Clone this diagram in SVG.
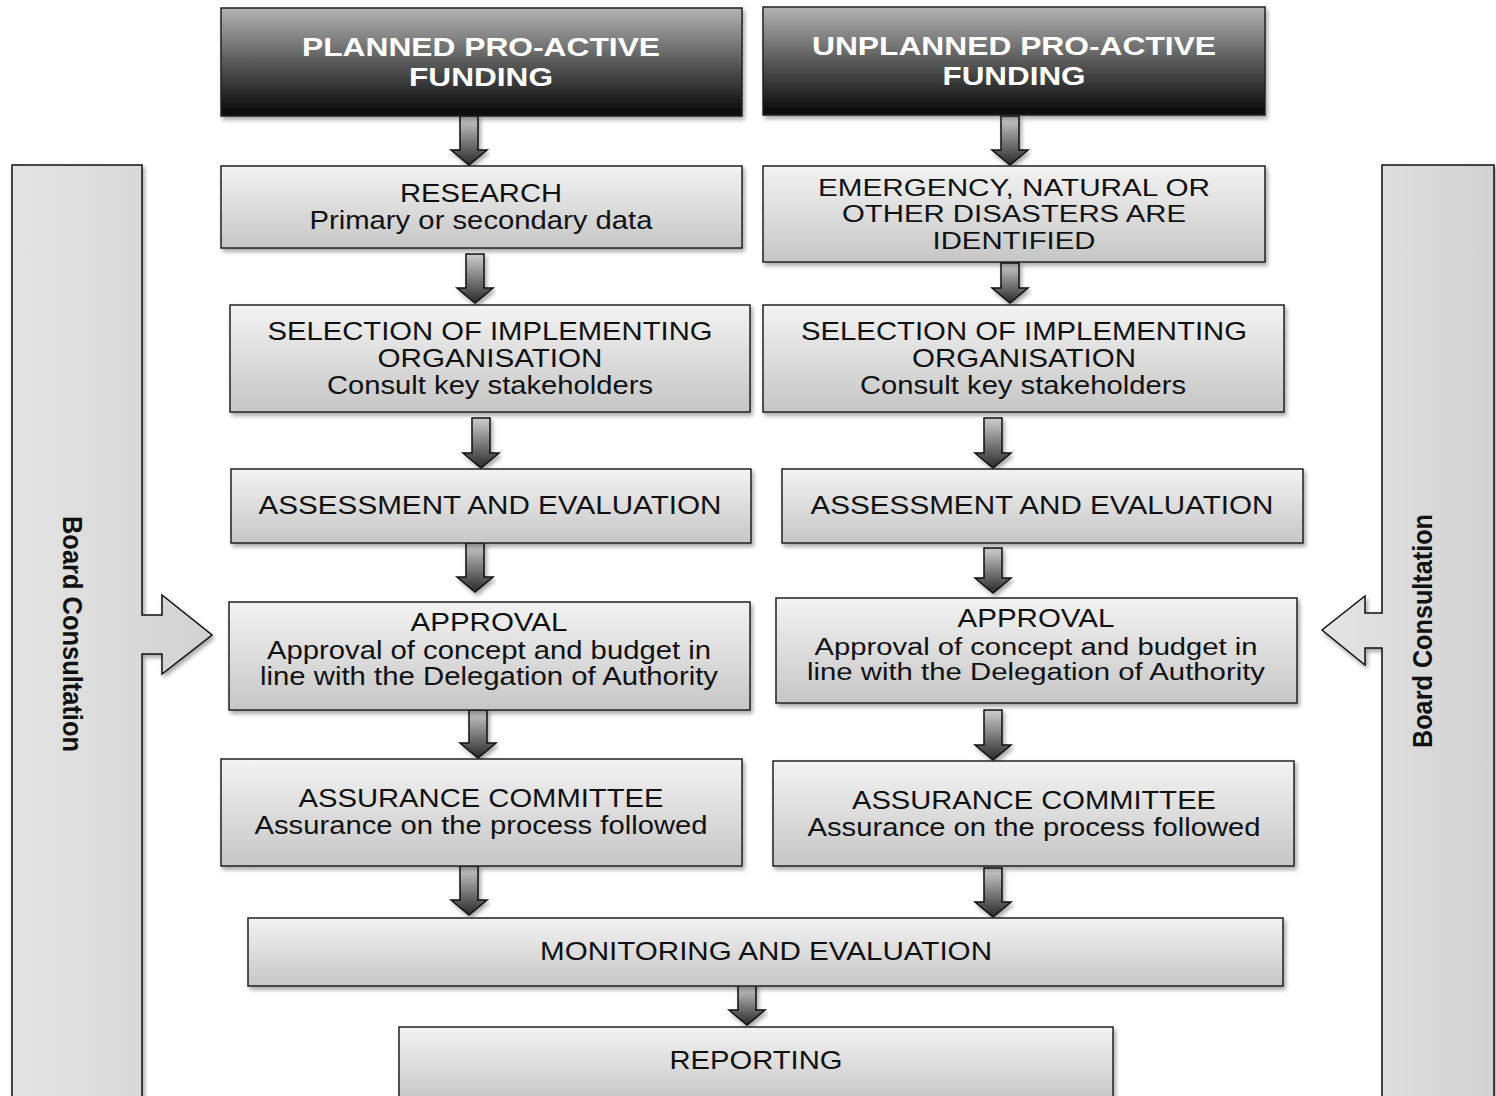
<svg xmlns="http://www.w3.org/2000/svg" width="1496" height="1096" viewBox="0 0 1496 1096">
<defs>
  <linearGradient id="gHead" x1="0" y1="0" x2="0" y2="1">
    <stop offset="0" stop-color="#b4b4b4"/>
    <stop offset="0.5" stop-color="#5a5a5a"/>
    <stop offset="1" stop-color="#050505"/>
  </linearGradient>
  <linearGradient id="gBox" x1="0" y1="0" x2="0" y2="1">
    <stop offset="0" stop-color="#f3f3f3"/>
    <stop offset="1" stop-color="#c6c6c6"/>
  </linearGradient>
  <linearGradient id="gSide" x1="0" y1="0" x2="1" y2="0">
    <stop offset="0" stop-color="#e4e4e4"/>
    <stop offset="1" stop-color="#d2d2d2"/>
  </linearGradient>
  <linearGradient id="gArrow" x1="0" y1="0" x2="0" y2="1">
    <stop offset="0" stop-color="#cfcfcf"/>
    <stop offset="1" stop-color="#2a2a2a"/>
  </linearGradient>
  <filter id="sh" x="-5%" y="-10%" width="112%" height="125%">
    <feDropShadow dx="2" dy="3" stdDeviation="2" flood-color="#000" flood-opacity="0.35"/>
  </filter>
</defs>
<style>
  .box{fill:url(#gBox);stroke:#222;stroke-width:1.5;filter:url(#sh)}
  .head{fill:url(#gHead);stroke:#222;stroke-width:1.5;filter:url(#sh)}
  .side{fill:url(#gSide);stroke:#111;stroke-width:1.5;filter:url(#sh)}
  .arr{fill:url(#gArrow);stroke:#111;stroke-width:1.5;filter:url(#sh)}
  text{font-family:"Liberation Sans",Arial,sans-serif;text-anchor:middle;}
  .t{font-size:25px;fill:#111}
  .s{font-size:23px}
  .h{font-size:26px;font-weight:bold;fill:#fff}
  .b{font-size:28px;font-weight:bold;fill:#111}
</style>

<g id="board-left">
  <path class="side" d="M12 165 H142 V615 H162 V595 L212 635 L162 674 V654 H142 V1100 H12 Z"/>
  <text class="b" transform="translate(63 634) rotate(90)" textLength="236" lengthAdjust="spacingAndGlyphs">Board Consultation</text>
</g>
<g id="board-right">
  <path class="side" d="M1494 165 H1382 V613 H1365 V596 L1322 630 L1365 665 V648 H1382 V1100 H1494 Z"/>
  <text class="b" transform="translate(1432 631) rotate(-90)" textLength="234" lengthAdjust="spacingAndGlyphs">Board Consultation</text>
</g>

<g id="connectors">
  <path class="arr" d="M460 116 H478 V150 H487 L469 165 L451 150 H460 Z"/>
  <path class="arr" d="M1001 116 H1019 V150 H1028 L1010 165 L992 150 H1001 Z"/>
  <path class="arr" d="M466 254 H484 V288 H493 L475 303 L457 288 H466 Z"/>
  <path class="arr" d="M1001 263 H1019 V288 H1028 L1010 303 L992 288 H1001 Z"/>
  <path class="arr" d="M472 418 H490 V453 H499 L481 468 L463 453 H472 Z"/>
  <path class="arr" d="M984 418 H1002 V453 H1011 L993 468 L975 453 H984 Z"/>
  <path class="arr" d="M466 543 H484 V577 H493 L475 592 L457 577 H466 Z"/>
  <path class="arr" d="M984 548 H1002 V578 H1011 L993 593 L975 578 H984 Z"/>
  <path class="arr" d="M469 710 H487 V743 H496 L478 758 L460 743 H469 Z"/>
  <path class="arr" d="M984 710 H1002 V745 H1011 L993 760 L975 745 H984 Z"/>
  <path class="arr" d="M460 866 H478 V900 H487 L469 915 L451 900 H460 Z"/>
  <path class="arr" d="M984 868 H1002 V902 H1011 L993 917 L975 902 H984 Z"/>
  <path class="arr" d="M738 985 H756 V1010 H765 L747 1025 L729 1010 H738 Z"/>
</g>

<g id="planned">
  <rect class="head" x="221" y="8" width="521" height="108"/>
  <text class="h" x="481" y="56" textLength="358" lengthAdjust="spacingAndGlyphs">PLANNED PRO-ACTIVE</text>
  <text class="h" x="481" y="86" textLength="144" lengthAdjust="spacingAndGlyphs">FUNDING</text>
</g>
<g id="unplanned">
  <rect class="head" x="763" y="7" width="502" height="108"/>
  <text class="h" x="1014" y="55" textLength="404" lengthAdjust="spacingAndGlyphs">UNPLANNED PRO-ACTIVE</text>
  <text class="h" x="1014" y="85" textLength="143" lengthAdjust="spacingAndGlyphs">FUNDING</text>
</g>

<g id="research">
  <rect class="box" x="221" y="166" width="521" height="82"/>
  <text class="t" x="481" y="202" textLength="162" lengthAdjust="spacingAndGlyphs">RESEARCH</text>
  <text class="t" x="481" y="229" textLength="343" lengthAdjust="spacingAndGlyphs">Primary or secondary data</text>
</g>
<g id="emergency">
  <rect class="box" x="763" y="166" width="502" height="96"/>
  <text class="t s" x="1014" y="196" textLength="392" lengthAdjust="spacingAndGlyphs">EMERGENCY, NATURAL OR</text>
  <text class="t s" x="1014" y="222" textLength="344" lengthAdjust="spacingAndGlyphs">OTHER DISASTERS ARE</text>
  <text class="t s" x="1014" y="249" textLength="163" lengthAdjust="spacingAndGlyphs">IDENTIFIED</text>
</g>

<g id="selection-left">
  <rect class="box" x="230" y="305" width="520" height="107"/>
  <text class="t" x="490" y="340" textLength="445" lengthAdjust="spacingAndGlyphs">SELECTION OF IMPLEMENTING</text>
  <text class="t" x="490" y="367" textLength="225" lengthAdjust="spacingAndGlyphs">ORGANISATION</text>
  <text class="t" x="490" y="394" textLength="326" lengthAdjust="spacingAndGlyphs">Consult key stakeholders</text>
</g>
<g id="selection-right">
  <rect class="box" x="763" y="305" width="521" height="107"/>
  <text class="t" x="1024" y="340" textLength="446" lengthAdjust="spacingAndGlyphs">SELECTION OF IMPLEMENTING</text>
  <text class="t" x="1024" y="367" textLength="224" lengthAdjust="spacingAndGlyphs">ORGANISATION</text>
  <text class="t" x="1023" y="394" textLength="326" lengthAdjust="spacingAndGlyphs">Consult key stakeholders</text>
</g>

<g id="assessment-left">
  <rect class="box" x="231" y="469" width="520" height="74"/>
  <text class="t" x="490" y="514" textLength="463" lengthAdjust="spacingAndGlyphs">ASSESSMENT AND EVALUATION</text>
</g>
<g id="assessment-right">
  <rect class="box" x="782" y="469" width="521" height="74"/>
  <text class="t" x="1042" y="514" textLength="463" lengthAdjust="spacingAndGlyphs">ASSESSMENT AND EVALUATION</text>
</g>

<g id="approval-left">
  <rect class="box" x="229" y="602" width="521" height="108"/>
  <text class="t" x="489" y="631" textLength="157" lengthAdjust="spacingAndGlyphs">APPROVAL</text>
  <text class="t" x="489" y="659" textLength="444" lengthAdjust="spacingAndGlyphs">Approval of concept and budget in</text>
  <text class="t" x="489" y="685" textLength="458" lengthAdjust="spacingAndGlyphs">line with the Delegation of Authority</text>
</g>
<g id="approval-right">
  <rect class="box" x="776" y="598" width="521" height="105"/>
  <text class="t" x="1036" y="627" textLength="157" lengthAdjust="spacingAndGlyphs">APPROVAL</text>
  <text class="t s" x="1036" y="655" textLength="443" lengthAdjust="spacingAndGlyphs">Approval of concept and budget in</text>
  <text class="t s" x="1036" y="680" textLength="458" lengthAdjust="spacingAndGlyphs">line with the Delegation of Authority</text>
</g>

<g id="assurance-left">
  <rect class="box" x="221" y="759" width="521" height="107"/>
  <text class="t" x="481" y="807" textLength="365" lengthAdjust="spacingAndGlyphs">ASSURANCE COMMITTEE</text>
  <text class="t" x="481" y="834" textLength="453" lengthAdjust="spacingAndGlyphs">Assurance on the process followed</text>
</g>
<g id="assurance-right">
  <rect class="box" x="773" y="761" width="521" height="105"/>
  <text class="t" x="1034" y="809" textLength="364" lengthAdjust="spacingAndGlyphs">ASSURANCE COMMITTEE</text>
  <text class="t" x="1034" y="836" textLength="453" lengthAdjust="spacingAndGlyphs">Assurance on the process followed</text>
</g>

<g id="monitoring">
  <rect class="box" x="248" y="918" width="1035" height="68"/>
  <text class="t" x="766" y="960" textLength="452" lengthAdjust="spacingAndGlyphs">MONITORING AND EVALUATION</text>
</g>
<g id="reporting">
  <rect class="box" x="399" y="1027" width="714" height="75"/>
  <text class="t" x="756" y="1069" textLength="173" lengthAdjust="spacingAndGlyphs">REPORTING</text>
</g>
</svg>
